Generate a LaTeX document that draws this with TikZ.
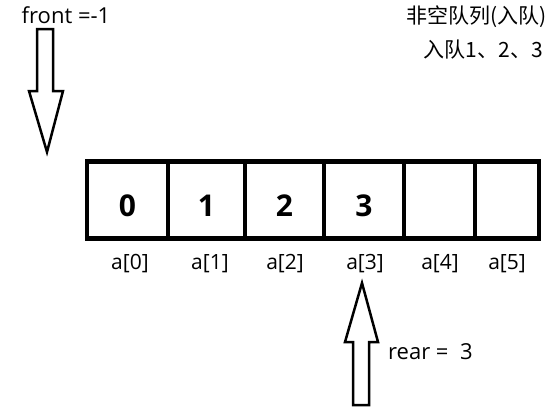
\documentclass[tikz,border=0pt]{standalone}
\usepackage{fontspec}
\setmainfont{Open Sans}
\newfontfamily\cjk{Noto Sans CJK SC}
\tikzset{
  cell/.style={draw, line width=4.5pt, minimum height=77pt, inner sep=0pt,
    text height=33pt, font=\fontsize{30}{32}\selectfont\bfseries},
  idx/.style={font=\fontsize{21}{24}\selectfont},
  note/.style={font=\fontsize{22}{25}\selectfont, inner sep=0pt},
  cjknote/.style={font=\fontsize{21}{24}\selectfont\cjk, inner sep=0pt},
  hollow/.style={draw, line width=2.5pt, line join=miter}
}
\begin{document}
\begin{tikzpicture}[x=1pt,y=-1pt]
\useasboundingbox (0,0) rectangle (553,408);

% array cells
\node[cell, minimum width=81pt] (c0) at (127.5,200) {0};
\node[cell, minimum width=77pt] (c1) at (206.5,200) {1};
\node[cell, minimum width=79pt] (c2) at (284.5,200) {2};
\node[cell, minimum width=80pt] (c3) at (364,200) {3};
\node[cell, minimum width=71pt] (c4) at (439.5,200) {};
\node[cell, minimum width=64pt] (c5) at (507,200) {};

% index labels
\node[idx] (a0) at (130,264) {a[0]};
\node[idx] (a1) at (210,264) {a[1]};
\node[idx] (a2) at (285,264) {a[2]};
\node[idx] (a3) at (365,264) {a[3]};
\node[idx] (a4) at (440,264) {a[4]};
\node[idx] (a5) at (507,264) {a[5]};

% front pointer
\node[note] (front) at (66,15) {front =-1};
\draw[hollow] (37,29) -- (53,29) -- (53,91) -- (63,91) -- (47,152)
  -- (29,91) -- (37,91) -- cycle;

% rear pointer
\draw[hollow] (353,405) -- (369,405) -- (369,342) -- (378,342) -- (362,283)
  -- (345,342) -- (353,342) -- cycle;
\node[note, anchor=west] (rear) at (388,352) {rear =\ \ 3};

% title
\node[cjknote, anchor=east] (title) at (547,17) {非空队列(入队)};
\node[cjknote, anchor=east] (enq) at (543,50) {入队1、2、3};
\end{tikzpicture}
\end{document}
